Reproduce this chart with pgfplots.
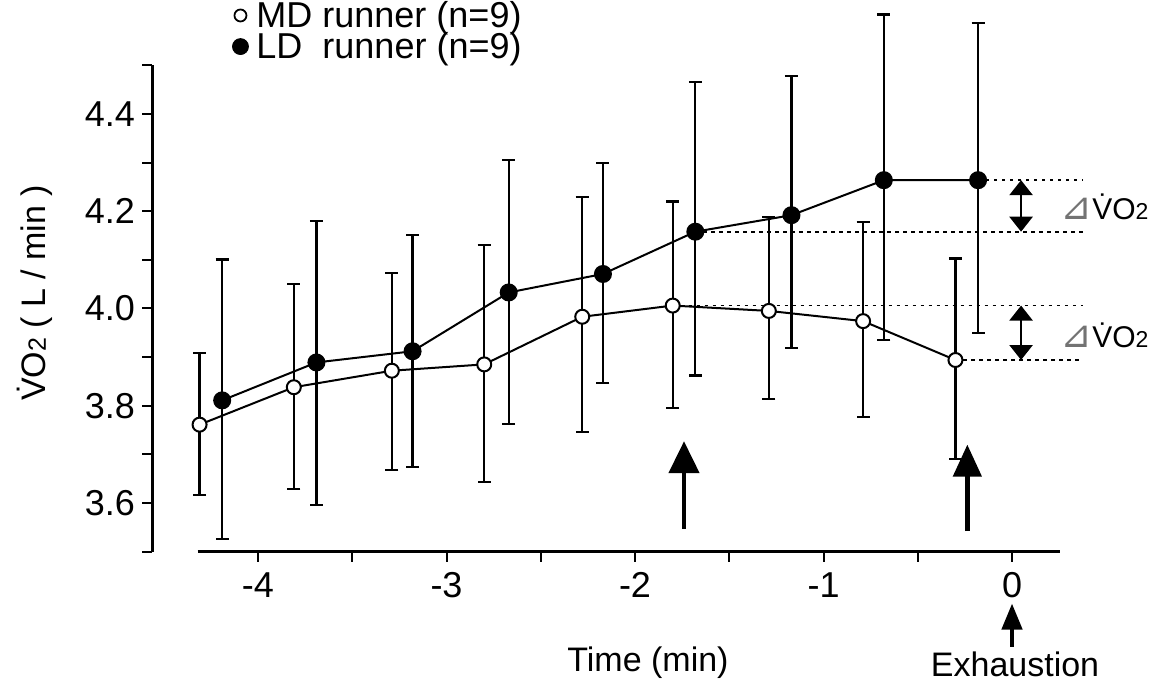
\documentclass[border=0pt]{standalone}
\usepackage{pgfplots}
\pgfplotsset{compat=1.18}
\usepackage{pgfplotstable}
\usepackage{fontspec}
\setmainfont{Liberation Sans}
\newfontfamily\dejavu{DejaVu Sans}
\usetikzlibrary{arrows.meta}

\pgfplotstableread{
x y ep em
-4.31 3.761 0.148 0.145
-3.81 3.838 0.213 0.209
-3.29 3.872 0.201 0.205
-2.80 3.885 0.245 0.242
-2.28 3.983 0.246 0.237
-1.80 4.006 0.214 0.210
-1.29 3.995 0.194 0.182
-0.79 3.974 0.204 0.198
-0.30 3.894 0.209 0.203
}\mdtable

\pgfplotstableread{
x y ep em
-4.19 3.811 0.290 0.286
-3.69 3.889 0.291 0.293
-3.18 3.912 0.239 0.238
-2.67 4.033 0.272 0.270
-2.17 4.071 0.229 0.225
-1.68 4.158 0.308 0.296
-1.17 4.192 0.286 0.274
-0.68 4.264 0.341 0.329
-0.18 4.264 0.324 0.315
}\ldtable

\begin{document}
\begin{tikzpicture}
\begin{axis}[
  scale only axis, width=454pt, height=243pt,
  xmin=-4.5623, xmax=0.255, ymin=3.5, ymax=4.5,
  clip=false,
  axis x line*=bottom, axis y line*=left,
  x axis line style={draw=none},
  y axis line style={line width=1.5pt},
  tick align=outside,
  major tick length=5pt,
  tick style={line width=1pt, black},
  xtick={-4,-3.5,-3,-2.5,-2,-1.5,-1,-0.5,0},
  xticklabels={-4,,-3,,-2,,-1,,0},
  ytick={3.5,3.6,3.7,3.8,3.9,4.0,4.1,4.2,4.3,4.4,4.5},
  yticklabels={,3.6,,3.8,,4.0,,4.2,,4.4,},
  ticklabel style={font=\fontsize{18}{20}\selectfont},
  xticklabel style={yshift=-2pt},
  legend style={draw=none, fill=none, at={(axis cs:-4.18,4.6336)}, anchor=north west,
    font=\fontsize{18}{20}\selectfont, row sep=1pt, inner sep=0pt,
    nodes={inner sep=0pt}},
  legend cell align=left,
  legend image code/.code={\path[draw=none] (-8pt,0pt) -- (8pt,0pt); \draw[#1] plot coordinates {(0pt,0pt)};},
]
% dotted reference lines
\draw[line width=0.9pt, dash pattern=on 1.6pt off 2.4pt] (axis cs:-0.18,4.264) -- (axis cs:0.377,4.264);
\draw[line width=0.9pt, dash pattern=on 1.6pt off 2.4pt] (axis cs:-1.68,4.158) -- (axis cs:0.377,4.158);
\draw[line width=0.9pt, dash pattern=on 1.6pt off 2.4pt] (axis cs:-1.80,4.006) -- (axis cs:0.377,4.006);
\draw[line width=0.9pt, dash pattern=on 1.6pt off 2.4pt] (axis cs:-0.30,3.894) -- (axis cs:0.377,3.894);

\addlegendimage{only marks, mark=*, mark size=3pt, mark options={fill=white, draw=black, line width=0.9pt}}
\addlegendentry{MD runner (n=9)}
\addlegendimage{only marks, mark=*, mark size=4pt, mark options={fill=black, draw=black}}
\addlegendentry{LD\ \ runner (n=9)}

\addplot[forget plot, black, line width=1pt, mark=*, mark size=4pt,
  mark options={fill=black, draw=black},
  error bars/.cd, y dir=both, y explicit,
  error bar style={line width=1.1pt},
  error mark options={rotate=90, line width=1.1pt, mark size=3.25pt}]
  table[x=x, y=y, y error plus=ep, y error minus=em] {\ldtable};

\addplot[forget plot, black, line width=1pt, mark=*, mark size=3.5pt,
  mark options={fill=white, draw=black, line width=1pt},
  error bars/.cd, y dir=both, y explicit,
  error bar style={line width=1.1pt},
  error mark options={rotate=90, line width=1.1pt, mark size=3.25pt}]
  table[x=x, y=y, y error plus=ep, y error minus=em] {\mdtable};

% x axis line
\draw[line width=1.6pt] (axis cs:-4.32,3.5) -- (axis cs:0.255,3.5);

% upward arrows
\draw[line width=2.3pt, -{Triangle[length=16pt,width=15pt]}] (axis cs:-1.74,3.547) -- (axis cs:-1.74,3.727);
\draw[line width=2.3pt, -{Triangle[length=16pt,width=14pt]}] (axis cs:-0.237,3.542) -- (axis cs:-0.237,3.720);
% exhaustion arrow
\draw[line width=2.2pt, -{Triangle[length=13pt,width=10pt]}] (axis cs:0,3.3037) -- (axis cs:0,3.393);
% double arrows
\draw[line width=1.3pt, {Triangle[length=7.5pt,width=11.5pt]}-{Triangle[length=7.5pt,width=11.5pt]}] (axis cs:0.048,4.158) -- (axis cs:0.048,4.264);
\draw[line width=1.3pt, {Triangle[length=7.5pt,width=11.5pt]}-{Triangle[length=7.5pt,width=11.5pt]}] (axis cs:0.048,3.894) -- (axis cs:0.048,4.006);

% delta labels
\node[anchor=west, inner sep=0pt, font=\fontsize{15}{16}\selectfont] at (axis cs:0.255,4.2087)
  {{\dejavu\fontsize{19}{19}\selectfont\color{black!55}⊿}\.{V}O{\fontsize{11.5}{12}\selectfont 2}};
\node[anchor=west, inner sep=0pt, font=\fontsize{15}{16}\selectfont] at (axis cs:0.255,3.945)
  {{\dejavu\fontsize{19}{19}\selectfont\color{black!55}⊿}\.{V}O{\fontsize{11.5}{12}\selectfont 2}};

% axis titles
\node[rotate=90, inner sep=0pt, font=\fontsize{17}{19}\selectfont] at (axis cs:-5.183,4.032)
  {\.{V}O{\fontsize{12.5}{13}\selectfont 2} ( L / min )};
\node[inner sep=0pt, font=\fontsize{17}{19}\selectfont] at (axis cs:-1.931,3.272) {Time (min)};
\node[inner sep=0pt, font=\fontsize{17}{19}\selectfont] at (axis cs:0.016,3.268) {Exhaustion};

\coordinate (bl) at (axis cs:-5.3687,3.2188);
\coordinate (tr) at (axis cs:0.7639,4.6347);
\end{axis}
\pgfresetboundingbox
\path[use as bounding box] (bl) rectangle (tr);
\end{tikzpicture}
\end{document}
